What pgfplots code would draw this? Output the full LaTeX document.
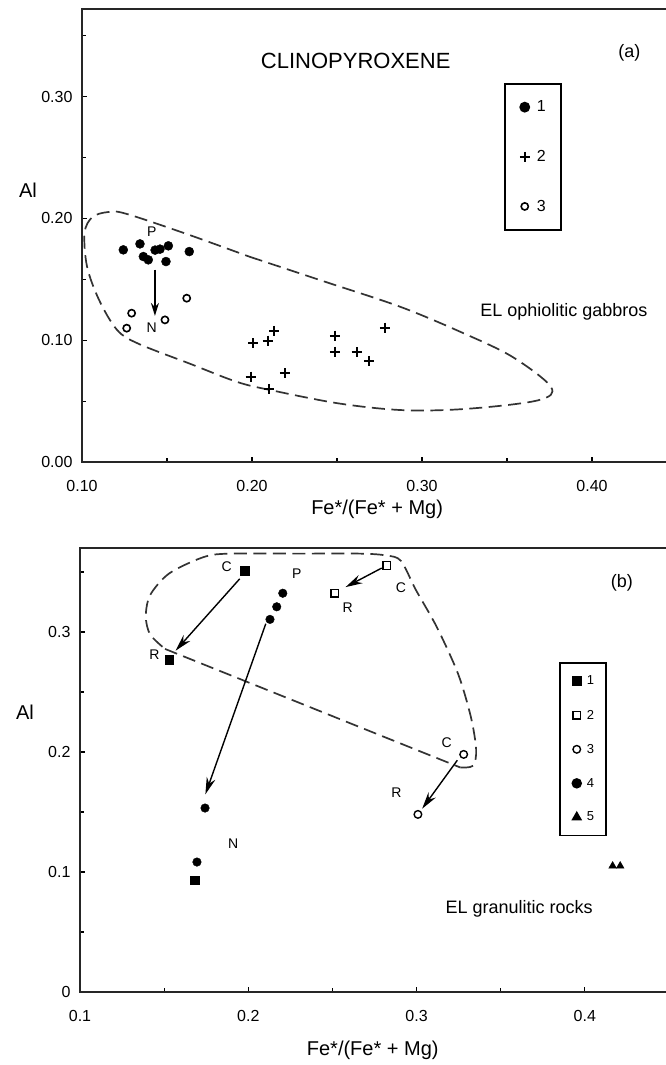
\documentclass[border=0pt]{standalone}
\usepackage{fontspec}
\setmainfont{Liberation Sans}
\usepackage{pgfplots}
\pgfplotsset{compat=1.18}
\usetikzlibrary{arrows.meta}

\tikzset{
  arr/.style={line width=1.4pt, black, -{Stealth[length=17pt,width=9pt]}},
  arrs/.style={line width=1.4pt, black, -{Stealth[length=13pt,width=8pt]}},
  lbl/.style={font=\fontsize{14}{14}\selectfont},
  env/.style={line width=1.7pt, black!80, dash pattern=on 13pt off 6.5pt},
}
\pgfplotsset{
  myaxis/.style={
    scale only axis, clip=false,
    axis line style={line width=2.4pt, black!85},
    tick align=inside, xtick pos=bottom, ytick pos=left,
    major tick length=5pt, minor tick length=4pt,
    every tick/.style={line width=1.2pt, black},
    /pgf/number format/assume math mode=true,
    ticklabel style={font=\fontsize{16}{16}\selectfont},
    yticklabel style={xshift=-6pt},
    xticklabel style={yshift=-15pt},
    xmin=0.1, xmax=0.45, ymin=0,
    legend cell align=left,
    legend image code/.code={\draw[mark repeat=2,mark phase=2,##1] plot coordinates {(0pt,0pt) (5pt,0pt) (10pt,0pt)}; \path[draw=none] (0pt,0pt) -- (17pt,0pt);},
  },
}

\begin{document}
\begin{tikzpicture}[x=1pt,y=1pt]
\useasboundingbox (0,0) rectangle (665,1065);

% ---------------- (a) ----------------
\begin{axis}[myaxis,
  at={(82pt,603pt)}, anchor=south west,
  width=595pt, height=453pt, ymax=0.372,
  xtick={0.1,0.2,0.3,0.4}, xticklabels={0.10,0.20,0.30,0.40},
  minor xtick={0.15,0.25,0.35},
  ytick={0,0.1,0.2,0.3}, yticklabels={0.00,0.10,0.20,0.30},
  minor ytick={0.05,0.15,0.25,0.35},
  legend style={at={(rel axis cs:0.709,0.8366)}, anchor=north west,
    draw=black, line width=1.8pt, font=\fontsize{16}{16}\selectfont,
    inner xsep=15pt, inner ysep=17pt, row sep=37pt,
    nodes={inner sep=0pt}},
]
\addplot[env, smooth, tension=0.55, forget plot] coordinates {
 (0.1987,0.1685) (0.2430,0.1480) (0.2873,0.1274) (0.3240,0.1060) (0.3532,0.0863)
 (0.3759,0.0616) (0.3684,0.0507) (0.3278,0.0438) (0.2899,0.0425) (0.2519,0.0479)
 (0.2114,0.0589) (0.1911,0.0658) (0.1633,0.0808) (0.1329,0.0973) (0.1206,0.1085)
 (0.1101,0.1329) (0.1030,0.1603) (0.1015,0.1880) (0.1060,0.2010) (0.1150,0.2052)
 (0.1253,0.2041) (0.1600,0.1880) (0.1987,0.1685)};
\addplot[only marks, mark=*, mark size=4.5pt, black] coordinates {
 (0.1243,0.1742) (0.1341,0.1791) (0.1361,0.1687) (0.1390,0.1660) (0.1430,0.1740)
 (0.1459,0.1748) (0.1508,0.1775) (0.1494,0.1646) (0.1631,0.1728)};
\addlegendentry{1}
\addplot[only marks, mark=+, mark size=5pt, line width=2pt, black] coordinates {
 (0.2008,0.0975) (0.2092,0.0997) (0.2131,0.1076) (0.1992,0.0701) (0.2100,0.0600)
 (0.2194,0.0729) (0.2488,0.1038) (0.2488,0.0906) (0.2616,0.0901) (0.2690,0.0830)
 (0.2782,0.1104)};
\addlegendentry{2}
\addplot[only marks, mark=o, mark size=3.6pt, line width=1.6pt, black] coordinates {
 (0.1616,0.1345) (0.1292,0.1222) (0.1263,0.1099) (0.1488,0.1167)};
\addlegendentry{3}
\draw[arrs] (axis cs:0.1429,0.158) -- (axis cs:0.1429,0.120);
\node[lbl] at (axis cs:0.141,0.1892) {P};
\node[lbl] at (axis cs:0.141,0.1099) {N};
\node[font=\fontsize{22}{22}\selectfont] at (axis cs:0.261,0.329) {CLINOPYROXENE};
\node[font=\fontsize{18}{18}\selectfont] at (axis cs:0.422,0.336) {(a)};
\node[font=\fontsize{18}{18}\selectfont] at (axis cs:0.3835,0.1233) {EL ophiolitic gabbros};
\node[font=\fontsize{20}{20}\selectfont] at (rel axis cs:-0.0908,0.600) {Al};
\node[font=\fontsize{20}{20}\selectfont, yshift=-47pt] at (rel axis cs:0.496,0) {Fe*/(Fe* + Mg)};
\end{axis}

% ---------------- (b) ----------------
\begin{axis}[myaxis,
  at={(80pt,73pt)}, anchor=south west,
  width=589pt, height=444pt, ymax=0.37,
  xtick={0.1,0.2,0.3,0.4}, minor xtick={0.15,0.25,0.35},
  ytick={0,0.1,0.2,0.3}, minor ytick={0.05,0.15,0.25,0.35},
  legend style={at={(rel axis cs:0.813,0.743)}, anchor=north west,
    draw=black, line width=1.8pt, font=\fontsize{13}{13}\selectfont,
    inner xsep=12pt, inner ysep=13pt, row sep=23.5pt,
    nodes={inner sep=0pt}},
  legend image code/.code={\draw[mark repeat=2,mark phase=2,#1] plot coordinates {(0pt,0pt) (5pt,0pt) (10pt,0pt)}; \path[draw=none] (0pt,0pt) -- (15pt,0pt);},
]
\addplot[env, forget plot] coordinates {(0.1505,0.2859) (0.3260,0.1871)};
\addplot[env, smooth, tension=0.5, forget plot] coordinates {
 (0.3260,0.1871) (0.3336,0.1886) (0.3354,0.2021) (0.3323,0.2290) (0.3247,0.2650)
 (0.3121,0.3039) (0.2995,0.3353) (0.2907,0.3593) (0.2818,0.3638) (0.2667,0.3653)
 (0.2300,0.3653) (0.1884,0.3653) (0.1732,0.3623) (0.1530,0.3488) (0.1417,0.3308)
 (0.1391,0.3129) (0.1417,0.2979) (0.1505,0.2859)};
\addplot[only marks, mark=square*, mark size=4.3pt, black] coordinates {
 (0.198,0.351) (0.153,0.277) (0.1683,0.0933)};
\addlegendentry{1}
\addplot[only marks, mark=square, mark size=3.8pt, line width=1.4pt, black] coordinates {
 (0.2823,0.3554) (0.2515,0.3323)};
\addlegendentry{2}
\addplot[only marks, mark=o, mark size=3.8pt, line width=1.4pt, black] coordinates {
 (0.3280,0.1980) (0.3008,0.1480)};
\addlegendentry{3}
\addplot[only marks, mark=*, mark size=4.3pt, black] coordinates {
 (0.2205,0.3323) (0.2169,0.3210) (0.2129,0.3105) (0.1743,0.1533) (0.1695,0.1083)};
\addlegendentry{4}
\addplot[only marks, mark=triangle*, mark size=4.5pt, black] coordinates {
 (0.4165,0.105) (0.4210,0.105)};
\addlegendentry{5}
\draw[arr] (axis cs:0.1949,0.3443) -- (axis cs:0.1568,0.2844);
\draw[arr] (axis cs:0.2104,0.3069) -- (axis cs:0.1745,0.1647);
\draw[arr] (axis cs:0.2793,0.3533) -- (axis cs:0.2578,0.3374);
\draw[arr] (axis cs:0.3242,0.1931) -- (axis cs:0.3033,0.1527);
\node[lbl] at (axis cs:0.1871,0.3548) {C};
\node[lbl] at (axis cs:0.2288,0.3488) {P};
\node[lbl] at (axis cs:0.2907,0.3368) {C};
\node[lbl] at (axis cs:0.2591,0.3204) {R};
\node[lbl] at (axis cs:0.1442,0.2814) {R};
\node[lbl] at (axis cs:0.3179,0.2081) {C};
\node[lbl] at (axis cs:0.2881,0.1662) {R};
\node[lbl] at (axis cs:0.1910,0.1240) {N};
\node[font=\fontsize{18}{18}\selectfont] at (axis cs:0.361,0.069) {EL granulitic rocks};
\node[font=\fontsize{18}{18}\selectfont] at (axis cs:0.422,0.341) {(b)};
\node[font=\fontsize{20}{20}\selectfont] at (rel axis cs:-0.0934,0.63) {Al};
\node[font=\fontsize{20}{20}\selectfont, yshift=-58pt] at (rel axis cs:0.497,0) {Fe*/(Fe* + Mg)};
\end{axis}
\end{tikzpicture}
\end{document}
